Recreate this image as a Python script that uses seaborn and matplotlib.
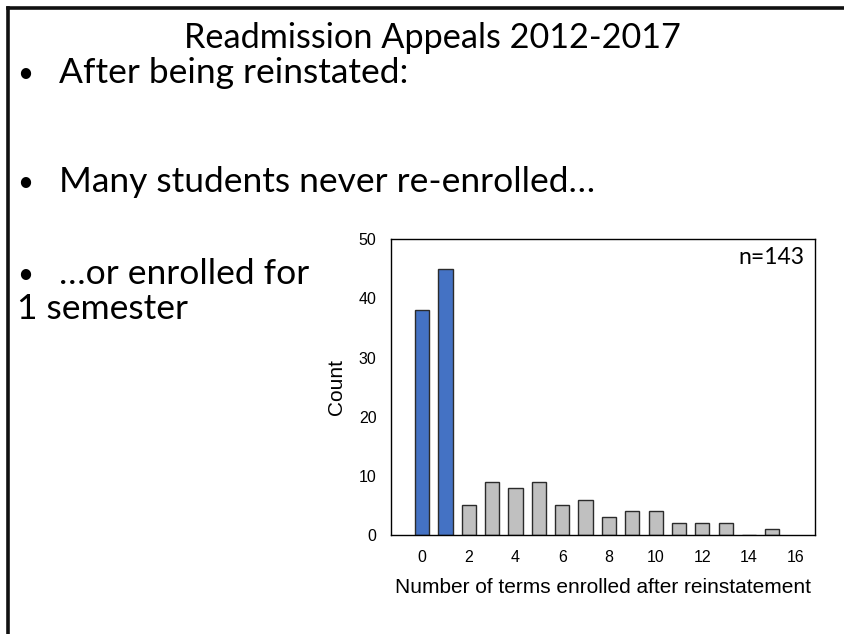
import matplotlib
matplotlib.use("Agg")
import matplotlib.pyplot as plt
from matplotlib.lines import Line2D
import seaborn as sns
import pandas as pd

# Number of terms enrolled after reinstatement and how many students fell in each
terms = [0, 1, 2, 3, 4, 5, 6, 7, 8, 9, 10, 11, 12, 13, 14, 15]
counts = [38, 45, 5, 9, 8, 9, 5, 6, 3, 4, 4, 2, 2, 2, 0, 1]
highlight_terms = [0, 1]
x_ticks = [0, 2, 4, 6, 8, 10, 12, 14, 16]
y_ticks = [0, 10, 20, 30, 40, 50]

title_text = "Readmission Appeals 2012-2017"
bullets = ["After being reinstated:", "Many students never re-enrolled…", "…or enrolled for"]
bullet_tail = "1 semester"
n_label = "n=143"

BLUE = "#4472C4"
GRAY = "#C0C0C0"
SLIDE_FONT = ["Lato", "DejaVu Sans"]
CHART_FONT = ["Liberation Sans", "DejaVu Sans"]

sns.set_theme(style="white")
plt.rcParams["font.family"] = CHART_FONT

df = pd.DataFrame({"terms": terms, "count": counts})
df["group"] = ["hi" if t in highlight_terms else "lo" for t in terms]

W, H = 844, 634
fig = plt.figure(figsize=(W / 100, H / 100), dpi=100)
fig.patch.set_facecolor("white")

# slide frame: left and top rules
fig.add_artist(Line2D([8 / W, 8 / W], [0, 1 - 8 / H], color="#111111", lw=2.6,
                      solid_capstyle="projecting"))
fig.add_artist(Line2D([8 / W, 1], [1 - 8 / H, 1 - 8 / H], color="#111111", lw=2.6,
                      solid_capstyle="projecting"))

# slide title and bullets
fig.text(432 / W, 1 - 48 / H, title_text, ha="center", va="baseline",
         fontsize=24.7, family=SLIDE_FONT, color="black")
bullet_baselines = [83, 192, 284]
for txt, yb in zip(bullets, bullet_baselines):
    fig.text(17 / W, 1 - (yb - 1) / H, "•", ha="left", va="baseline",
             fontsize=20, family=SLIDE_FONT, color="black")
    fig.text(59 / W, 1 - yb / H, txt, ha="left", va="baseline",
             fontsize=25.5, family=SLIDE_FONT, color="black")
fig.text(17 / W, 1 - 319 / H, bullet_tail, ha="left", va="baseline",
         fontsize=25.5, family=SLIDE_FONT, color="black")

# histogram of terms enrolled
ax = fig.add_axes([391 / W, 1 - 535 / H, (815 - 391) / W, (535 - 239.3) / H])
sns.barplot(data=df, x="terms", y="count", hue="group",
            palette={"hi": BLUE, "lo": GRAY}, native_scale=True, dodge=False,
            width=0.61, saturation=1, edgecolor="#2b2b2b", linewidth=1.0,
            legend=False, ax=ax)

ax.set_xlim(-1.34, 16.83)
ax.set_ylim(0, 50)
ax.set_xticks(x_ticks)
ax.set_xticklabels([str(t) for t in x_ticks])
ax.set_yticks(y_ticks)
ax.set_yticklabels([str(t) for t in y_ticks])
ax.tick_params(axis="both", which="major", direction="out", length=4, width=1,
               color="black", labelsize=11.5, labelcolor="black")
ax.tick_params(axis="y", pad=6.5)
ax.tick_params(axis="x", pad=6.5)
for s in ax.spines.values():
    s.set_visible(True)
    s.set_color("black")
    s.set_linewidth(1.0)
ax.set_facecolor("white")
ax.grid(False)

ax.set_xlabel("Number of terms enrolled after reinstatement", fontsize=15,
              labelpad=10, color="black")
ax.set_ylabel("Count", fontsize=15, labelpad=9, color="black")

ax.text(0.975, 0.915, n_label, transform=ax.transAxes, ha="right", va="baseline",
        fontsize=16.5, family=SLIDE_FONT, color="black")

fig.savefig("out.png", dpi=100, facecolor="white")
